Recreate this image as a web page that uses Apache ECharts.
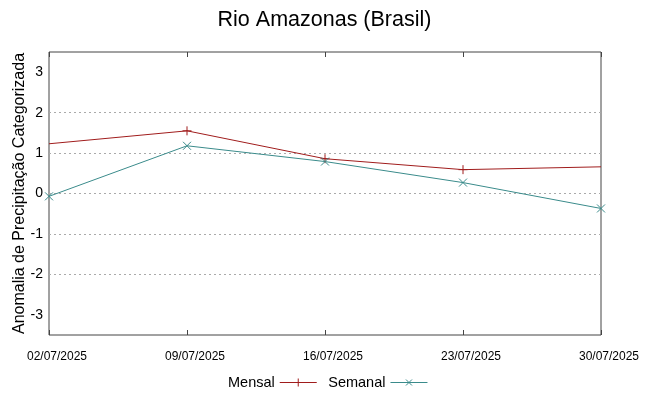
<!DOCTYPE html>
<html>
<head>
<meta charset="utf-8">
<script src="https://cdn.jsdelivr.net/npm/echarts@6/dist/echarts.min.js"></script>
<style>
  html, body { margin: 0; padding: 0; background: #fff; }
  #main { width: 649px; height: 396px; }
</style>
</head>
<body>
<div id="main"></div>
<script>
// datas semanais
const datas = ['02/07/2025', '09/07/2025', '16/07/2025', '23/07/2025', '30/07/2025'];
const mensal = [1.23, 1.55, 0.86, 0.59, 0.66];
const semanal = [-0.07, 1.18, 0.79, 0.27, -0.37];
const yTicks = [-3, -2, -1, 0, 1, 2, 3];

const corMensal = '#a01c1c';
const corSemanal = '#3a8b8b';
const fonte = '"Liberation Sans", Arial, sans-serif';

// nas bordas a serie mensal nao mostra o marcador
const mensalDados = mensal.map((v, i) =>
  (i === 0 || i === mensal.length - 1) ? { value: v, symbol: 'none' } : v);

const eixoTick = { inside: true, length: 5, lineStyle: { color: '#444' } };

const myChart = echarts.init(document.getElementById('main'));
myChart.setOption({
  animation: false,
  title: {
    text: 'Rio Amazonas (Brasil)',
    left: 'center',
    top: 4,
    textStyle: { fontFamily: fonte, fontWeight: 'normal', fontSize: 21.5, color: '#000' }
  },
  legend: {
    bottom: 1,
    left: 223,
    align: 'right',
    itemWidth: 37,
    itemHeight: 10,
    itemGap: 9,
    textStyle: { fontFamily: fonte, fontSize: 14.5, color: '#000' },
    itemStyle: { borderWidth: 1 },
    data: [
      { name: 'Mensal', icon: 'path://M0,5L37,5M18.5,1L18.5,9' },
      { name: 'Semanal', icon: 'path://M0,5L37,5M15.5,2L21.5,8M21.5,2L15.5,8' }
    ]
  },
  grid: {
    left: 49, right: 48, top: 52, bottom: 61,
    outerBoundsMode: 'none',
    show: true,
    borderColor: '#444',
    borderWidth: 1
  },
  xAxis: [
    {
      type: 'category',
      data: datas,
      boundaryGap: false,
      axisLine: { show: false, onZero: false },
      axisTick: eixoTick,
      axisLabel: {
        fontFamily: '"Liberation Sans Narrow", "Liberation Sans", sans-serif',
        fontSize: 12, color: '#000', margin: 16, interval: 0,
        padding: [0, 0, 0, 16]
      },
      splitLine: { show: false }
    },
    {
      type: 'category',
      data: datas,
      position: 'top',
      boundaryGap: false,
      axisLine: { show: false, onZero: false },
      axisTick: eixoTick,
      axisLabel: { show: false },
      splitLine: { show: false }
    }
  ],
  yAxis: [
    {
      type: 'value',
      min: -3.5,
      max: 3.5,
      name: 'Anomalia de Precipitação Categorizada',
      nameLocation: 'middle',
      nameGap: 21,
      nameMoveOverlap: false,
      nameTextStyle: { fontFamily: fonte, fontSize: 16, color: '#000' },
      axisLine: { show: false, onZero: false },
      axisTick: Object.assign({ customValues: yTicks }, eixoTick),
      axisLabel: { fontFamily: fonte, fontSize: 14, color: '#000', margin: 6, customValues: yTicks },
      splitLine: { show: true, lineStyle: { color: '#aaa', type: [2, 3] }, showMinLine: false, showMaxLine: false }
    },
    {
      type: 'value',
      min: -3.5,
      max: 3.5,
      position: 'right',
      axisLine: { show: false, onZero: false },
      axisTick: Object.assign({ customValues: yTicks }, eixoTick),
      axisLabel: { show: false, customValues: yTicks },
      splitLine: { show: false }
    }
  ],
  series: [
    {
      name: 'Mensal',
      type: 'line',
      data: mensalDados,
      color: corMensal,
      symbol: 'path://M0,-5L0,5M-5,0L5,0',
      symbolSize: 9,
      showAllSymbol: true,
      lineStyle: { width: 1, color: corMensal },
      itemStyle: { color: 'none', borderColor: corMensal, borderWidth: 1 }
    },
    {
      name: 'Semanal',
      type: 'line',
      data: semanal,
      color: corSemanal,
      symbol: 'path://M-4,-4L4,4M-4,4L4,-4',
      symbolSize: 8,
      showAllSymbol: true,
      lineStyle: { width: 1, color: corSemanal },
      itemStyle: { color: 'none', borderColor: corSemanal, borderWidth: 1 }
    }
  ]
});
</script>
</body>
</html>
